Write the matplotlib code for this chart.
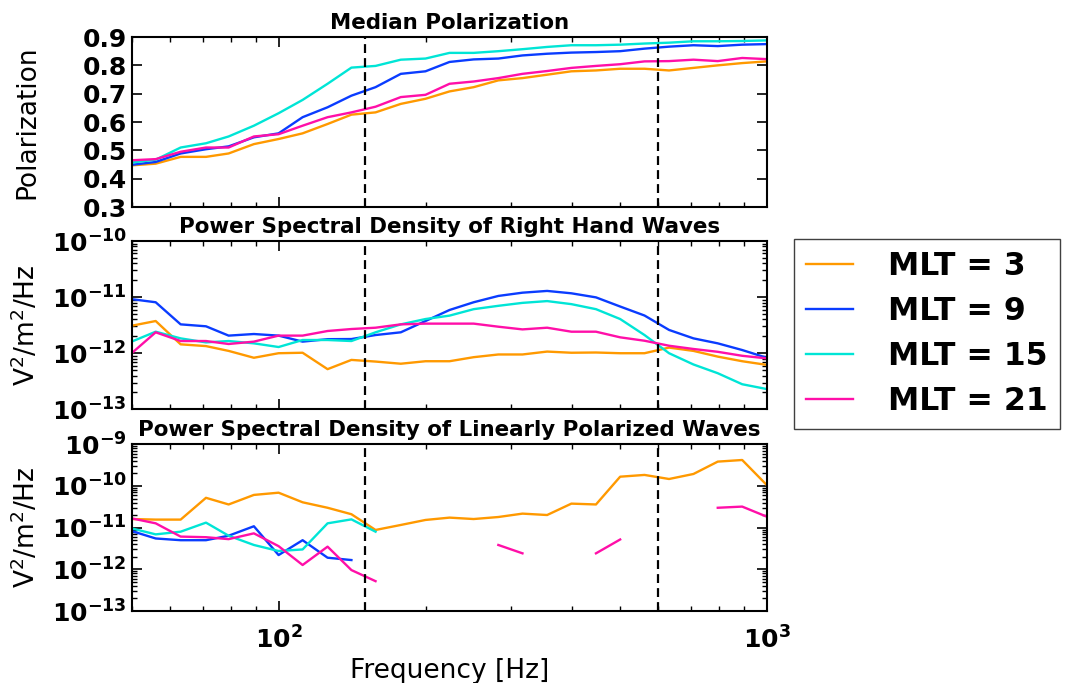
import numpy as np
import matplotlib
matplotlib.use("Agg")
import matplotlib.pyplot as plt
from matplotlib.ticker import LogLocator, NullFormatter, MultipleLocator

# ---- data ----
freq = [50, 56, 63, 71, 79, 89, 100, 112, 126, 141, 158, 178, 200, 224, 251,
        282, 316, 355, 398, 447, 501, 562, 631, 708, 794, 891, 1000]

mlt_labels = ["MLT = 3", "MLT = 9", "MLT = 15", "MLT = 21"]
colors = ["#FF9900", "#0A3CFF", "#00E5D6", "#FF0FA8"]

pol_mlt3 = [0.447, 0.453, 0.477, 0.477, 0.489, 0.522, 0.540, 0.560, 0.593, 0.626,
            0.634, 0.664, 0.682, 0.708, 0.723, 0.747, 0.755, 0.767, 0.779, 0.782,
            0.788, 0.788, 0.782, 0.791, 0.800, 0.808, 0.814]
pol_mlt9 = [0.449, 0.459, 0.489, 0.504, 0.514, 0.546, 0.560, 0.617, 0.652, 0.693,
            0.723, 0.770, 0.779, 0.812, 0.821, 0.824, 0.835, 0.841, 0.845, 0.847,
            0.850, 0.859, 0.866, 0.871, 0.868, 0.873, 0.875]
pol_mlt15 = [0.457, 0.467, 0.510, 0.525, 0.549, 0.587, 0.631, 0.678, 0.735, 0.792,
             0.798, 0.820, 0.824, 0.844, 0.844, 0.850, 0.857, 0.865, 0.871, 0.871,
             0.873, 0.877, 0.880, 0.885, 0.885, 0.886, 0.888]
pol_mlt21 = [0.465, 0.469, 0.495, 0.510, 0.510, 0.549, 0.557, 0.587, 0.617, 0.634,
             0.654, 0.688, 0.696, 0.735, 0.743, 0.755, 0.770, 0.780, 0.791, 0.798,
             0.804, 0.814, 0.815, 0.820, 0.815, 0.826, 0.822]

rh_mlt3 = [3.09e-12, 3.75e-12, 1.44e-12, 1.34e-12, 1.10e-12, 8.3e-13, 1.0e-12, 1.02e-12,
           5.2e-13, 7.6e-13, 7.1e-13, 6.5e-13, 7.2e-13, 7.2e-13, 8.5e-13, 9.5e-13,
           9.5e-13, 1.07e-12, 1.02e-12, 1.03e-12, 1.0e-12, 1.0e-12, 1.26e-12, 1.10e-12,
           8.7e-13, 7.2e-13, 6.2e-13]
rh_mlt9 = [9.2e-12, 8.1e-12, 3.27e-12, 3.02e-12, 2.06e-12, 2.2e-12, 2.06e-12, 1.61e-12,
           1.78e-12, 1.79e-12, 2.11e-12, 2.36e-12, 3.75e-12, 5.9e-12, 8.1e-12, 1.05e-11,
           1.2e-11, 1.29e-11, 1.17e-11, 9.9e-12, 6.8e-12, 4.7e-12, 2.6e-12, 1.84e-12,
           1.5e-12, 1.14e-12, 8.3e-13]
rh_mlt15 = [1.61e-12, 2.42e-12, 1.84e-12, 1.56e-12, 1.65e-12, 1.5e-12, 1.29e-12, 1.72e-12,
            1.72e-12, 1.65e-12, 2.36e-12, 3.27e-12, 4.07e-12, 4.68e-12, 6.1e-12, 7.0e-12,
            7.9e-12, 8.5e-12, 7.5e-12, 6.1e-12, 4.07e-12, 2.11e-12, 1.0e-12, 6.3e-13,
            4.4e-13, 2.8e-13, 2.3e-13]
rh_mlt21 = [1.0e-12, 2.36e-12, 1.65e-12, 1.65e-12, 1.46e-12, 1.61e-12, 2.06e-12, 2.06e-12,
            2.49e-12, 2.7e-12, 2.85e-12, 3.27e-12, 3.37e-12, 3.37e-12, 3.37e-12, 2.97e-12,
            2.66e-12, 2.85e-12, 2.42e-12, 2.42e-12, 1.92e-12, 1.67e-12, 1.36e-12, 1.19e-12,
            1.06e-12, 9.0e-13, 8.1e-13]

nan = np.nan
lin_mlt3 = [1.61e-11, 1.56e-11, 1.56e-11, 5.2e-11, 3.6e-11, 6.1e-11, 6.9e-11, 4.06e-11,
            3.0e-11, 2.1e-11, 8.8e-12, 1.16e-11, 1.53e-11, 1.74e-11, 1.61e-11, 1.8e-11,
            2.17e-11, 2.01e-11, 3.77e-11, 3.6e-11, 1.67e-10, 1.84e-10, 1.47e-10, 1.94e-10,
            3.84e-10, 4.2e-10, 1.06e-10]
lin_mlt9 = [8.3e-12, 5.5e-12, 5.0e-12, 5.0e-12, 6.4e-12, 1.08e-11, 2.2e-12, 5.0e-12,
            1.9e-12, 1.67e-12] + [nan] * 17
lin_mlt15 = [9.6e-12, 6.9e-12, 8.0e-12, 1.32e-11, 6.4e-12, 3.84e-12, 2.75e-12, 3.0e-12,
             1.27e-11, 1.58e-11, 8.0e-12] + [nan] * 16
lin_mlt21 = [1.67e-11, 1.27e-11, 6.1e-12, 5.9e-12, 5.3e-12, 7.3e-12, 3.6e-12, 1.27e-12,
             3.5e-12, 9.6e-13, 5.2e-13, nan, nan, nan, nan, 3.84e-12, 2.42e-12, nan, nan,
             2.42e-12, 5.2e-12, nan, nan, nan, 3.0e-11, 3.2e-11, 1.84e-11]

band_edges = [150, 600]

# ---- figure ----
plt.rcParams["font.family"] = "DejaVu Sans"
plt.rcParams["xtick.direction"] = "in"
plt.rcParams["ytick.direction"] = "in"
plt.rcParams["xtick.top"] = True
plt.rcParams["ytick.right"] = True
plt.rcParams["axes.linewidth"] = 1.5

fig = plt.figure(figsize=(10.73, 6.83), dpi=100)
L, W = 0.1227, 0.5918
ax1 = fig.add_axes([L, 0.6969, W, 0.2489])
ax2 = fig.add_axes([L, 0.4007, W, 0.2464])
ax3 = fig.add_axes([L, 0.1054, W, 0.2441])

pol = [pol_mlt3, pol_mlt9, pol_mlt15, pol_mlt21]
rh = [rh_mlt3, rh_mlt9, rh_mlt15, rh_mlt21]
lin = [lin_mlt3, lin_mlt9, lin_mlt15, lin_mlt21]

for i in range(4):
    ax1.plot(freq, pol[i], color=colors[i], lw=1.7, label=mlt_labels[i])
    ax2.plot(freq, rh[i], color=colors[i], lw=1.7)
    ax3.plot(freq, lin[i], color=colors[i], lw=1.7)

ax2.set_yscale("log")
ax3.set_yscale("log")
ax1.set_ylim(0.3, 0.9)
ax2.set_ylim(1e-13, 1e-10)
ax3.set_ylim(1e-13, 1e-9)
ax1.yaxis.set_major_locator(MultipleLocator(0.1))

titles = ["Median Polarization", "Power Spectral Density of Right Hand Waves",
          "Power Spectral Density of Linearly Polarized Waves"]
for ax, t in zip([ax1, ax2, ax3], titles):
    ax.set_xscale("log")
    ax.set_xlim(50, 1000)
    for f in band_edges:
        ax.axvline(f, color="black", ls=(0, (4, 2.3)), lw=1.6)
    ax.set_title(t, fontsize=15.4, fontweight="bold", pad=6)
    ax.tick_params(which="major", length=7, width=1.2, labelsize=18)
    ax.tick_params(which="minor", length=3.5, width=1)
    ax.tick_params(axis="x", which="major", pad=11)
    ax.yaxis.set_label_coords(-0.143, 0.5)

for ax in [ax2, ax3]:
    ax.yaxis.set_major_locator(LogLocator(base=10, numticks=10))
    ax.yaxis.set_minor_locator(LogLocator(base=10, subs=np.arange(2, 10), numticks=10))
    ax.yaxis.set_minor_formatter(NullFormatter())
    ax.set_ylabel("V$^2$/m$^2$/Hz", fontsize=19)

ax1.set_ylabel("Polarization", fontsize=19)
for ax in [ax1, ax2]:
    ax.xaxis.set_major_formatter(NullFormatter())
for ax in [ax1, ax2, ax3]:
    ax.xaxis.set_minor_formatter(NullFormatter())
ax3.set_xlabel("Frequency [Hz]", fontsize=19, labelpad=3)

for ax in [ax1, ax2, ax3]:
    for lab in ax.get_yticklabels() + ax.get_xticklabels():
        lab.set_fontweight("bold")

handles, labels = ax1.get_legend_handles_labels()
leg = fig.legend(handles, labels, loc="upper left",
                 bbox_to_anchor=(794 / 1073, 1 - 239 / 683), borderaxespad=0,
                 prop={"size": 22.7, "weight": "bold"}, handlelength=1.5,
                 handletextpad=1.1, labelspacing=0.44, borderpad=0.38,
                 fancybox=False, framealpha=1)
leg.get_frame().set_edgecolor("0.25")
leg.get_frame().set_linewidth(1.0)

fig.savefig("out.png", dpi=100)
